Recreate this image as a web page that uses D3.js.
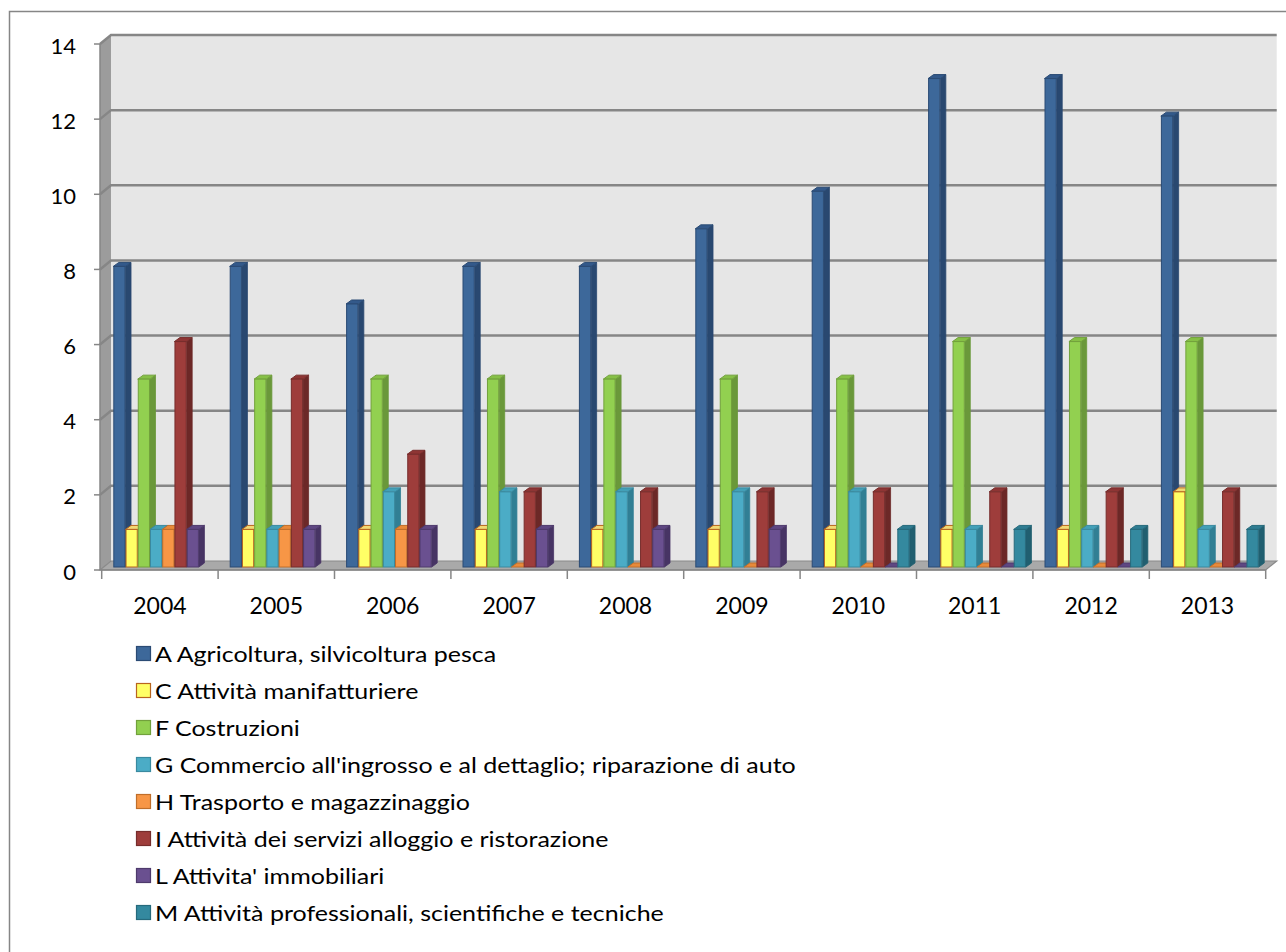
<!DOCTYPE html>
<html>
<head>
<meta charset="utf-8">
<script src="https://cdn.jsdelivr.net/npm/d3@7"></script>
<style>
  body { margin: 0; background: #ffffff; }
  svg { display: block; }
  text { font-family: Lato, "Open Sans", sans-serif; fill: #000; }
</style>
</head>
<body>
<svg id="chart" width="1286" height="952"></svg>
<script>
// Years on the category axis
const years = ["2004", "2005", "2006", "2007", "2008", "2009", "2010", "2011", "2012", "2013"];

// Sector names (legend order = bar order inside each year)
const seriesLabels = [
  "A Agricoltura, silvicoltura pesca",
  "C Attività manifatturiere",
  "F Costruzioni",
  "G Commercio all'ingrosso e al dettaglio; riparazione di auto",
  "H Trasporto e magazzinaggio",
  "I Attività dei servizi alloggio e ristorazione",
  "L Attivita' immobiliari",
  "M Attività professionali, scientifiche e tecniche"
];

// Counts per year, one array per sector (null = no entry for that year)
const agricoltura    = [8, 8, 7, 8, 8, 9, 10, 13, 13, 12];
const manifatturiere = [1, 1, 1, 1, 1, 1, 1, 1, 1, 2];
const costruzioni    = [5, 5, 5, 5, 5, 5, 5, 6, 6, 6];
const commercio      = [1, 1, 2, 2, 2, 2, 2, 1, 1, 1];
const trasporto      = [1, 1, 1, 0, 0, 0, 0, 0, 0, 0];
const alloggio       = [6, 5, 3, 2, 2, 2, 2, 2, 2, 2];
const immobiliari    = [1, 1, 1, 1, 1, 1, 0, 0, 0, 0];
const professionali  = [null, null, null, null, null, null, 1, 1, 1, 1];

// Value axis ticks
const yTicks = [0, 2, 4, 6, 8, 10, 12, 14];

const seriesValues = [agricoltura, manifatturiere, costruzioni, commercio,
                      trasporto, alloggio, immobiliari, professionali];

// Face colours for each sector's 3D column
const palette = [
  { front: "#3D689A", side: "#294870", top: "#33598A", stroke: "#2B4B74" },
  { front: "#FFFF66", side: "#C9C94A", top: "#F2D873", stroke: "#B8651E" },
  { front: "#92D050", side: "#6A983A", top: "#86C046", stroke: "#72A13C" },
  { front: "#4BACC6", side: "#317F94", top: "#43A0B8", stroke: "#3A8AA0" },
  { front: "#F79646", side: "#B86A2C", top: "#E88A3A", stroke: "#C06E2A" },
  { front: "#9E3D3B", side: "#6C2827", top: "#8E3534", stroke: "#772D2C" },
  { front: "#6A5090", side: "#473464", top: "#5E4782", stroke: "#4E3A6C" },
  { front: "#34899F", side: "#215F70", top: "#2F7C91", stroke: "#266A7C" }
];

const svg = d3.select("#chart");

// Projection of the 3D box: front plane and depth offsets
const wallDx = 11, wallDy = -9;      // back wall offset from the front plane
const barDx = 5.5, barDy = -4;       // depth of each column
const barLift = -3;                  // columns stand slightly behind the front edge

const y = d3.scaleLinear().domain([0, 14]).range([570, 44]);
const x = d3.scaleBand().domain(years).range([101.7, 1265.7]).padding(0);
const slot = d3.scaleBand().domain(d3.range(seriesValues.length))
  .range([11.6, 11.6 + 8 * 12.23]).padding(0);

const left = 100, right = x.range()[1];

// Chart area frame
svg.append("rect")
  .attr("x", 9.5).attr("y", 11.5)
  .attr("width", 1400).attr("height", 1000)
  .attr("fill", "#fff").attr("stroke", "#868686").attr("stroke-width", 1.5);

// Back wall
svg.append("rect")
  .attr("x", left + wallDx).attr("y", y(14) + wallDy)
  .attr("width", right - left).attr("height", y(0) - y(14))
  .attr("fill", "#E6E6E6");

// Side wall
const pt = p => p.join(",");
svg.append("polygon")
  .attr("points", [[left, y(0)], [left, y(14)], [left + wallDx, y(14) + wallDy], [left + wallDx, y(0) + wallDy]].map(pt).join(" "))
  .attr("fill", "#9C9C9C");

// Floor
svg.append("polygon")
  .attr("points", [[left, y(0)], [right, y(0)], [right + wallDx, y(0) + wallDy], [left + wallDx, y(0) + wallDy]].map(pt).join(" "))
  .attr("fill", "#A9A9A9").attr("stroke", "#8A8A8A").attr("stroke-width", 1.2);

// Gridlines: across the side wall and along the back wall
const grid = svg.append("g").attr("fill", "none").attr("stroke", "#868686").attr("stroke-width", 2.5);
yTicks.filter(v => v > 0).forEach(v => {
  grid.append("polyline")
    .attr("points", [[left, y(v)], [left + wallDx, y(v) + wallDy], [right + wallDx, y(v) + wallDy]].map(pt).join(" "));
});

// Value axis line, ticks and labels
svg.append("line")
  .attr("x1", left).attr("x2", left).attr("y1", y(14)).attr("y2", y(0))
  .attr("stroke", "#868686").attr("stroke-width", 1.5);
const yAxis = svg.append("g");
yTicks.forEach(v => {
  yAxis.append("line")
    .attr("x1", left - 6).attr("x2", left).attr("y1", y(v)).attr("y2", y(v))
    .attr("stroke", "#868686").attr("stroke-width", 1.5);
  yAxis.append("text")
    .attr("x", 76).attr("y", y(v) + 1)
    .attr("text-anchor", "end").attr("dominant-baseline", "central")
    .attr("font-size", 22)
    .text(v);
});

// Category axis line, ticks and labels
svg.append("line")
  .attr("x1", left).attr("x2", right).attr("y1", y(0)).attr("y2", y(0))
  .attr("stroke", "#868686").attr("stroke-width", 1.5);
const bounds = years.map(d => x(d)).concat([right]);
bounds.forEach(b => {
  svg.append("line")
    .attr("x1", b).attr("x2", b).attr("y1", y(0)).attr("y2", y(0) + 9)
    .attr("stroke", "#868686").attr("stroke-width", 1.5);
});
svg.append("g").selectAll("text").data(years).join("text")
  .attr("x", d => x(d) + x.bandwidth() / 2)
  .attr("y", 605)
  .attr("text-anchor", "middle").attr("dominant-baseline", "central")
  .attr("font-size", 23)
  .text(d => d);

// 3D columns, drawn left to right so each column hides its neighbour's side face
const bars = svg.append("g");
const w = slot.bandwidth();
years.forEach((yr, j) => {
  seriesValues.forEach((vals, i) => {
    const v = vals[j];
    if (v === null) return;
    const c = palette[i];
    const x0 = x(yr) + slot(i);
    const yb = y(0) + barLift;
    const yt = y(v) + barLift;
    const g = bars.append("g");
    // side face
    if (v > 0) {
      g.append("polygon")
        .attr("points", [[x0 + w, yb], [x0 + w, yt], [x0 + w + barDx, yt + barDy], [x0 + w + barDx, yb + barDy]].map(pt).join(" "))
        .attr("fill", c.side).attr("stroke", c.side).attr("stroke-width", 0.8);
    }
    // top face
    g.append("polygon")
      .attr("points", [[x0, yt], [x0 + w, yt], [x0 + w + barDx, yt + barDy], [x0 + barDx, yt + barDy]].map(pt).join(" "))
      .attr("fill", c.top).attr("stroke", c.stroke).attr("stroke-width", 1);
    // front face
    if (v > 0) {
      g.append("rect")
        .attr("x", x0 + 0.5).attr("y", yt)
        .attr("width", w - 1).attr("height", yb - yt)
        .attr("fill", c.front).attr("stroke", c.stroke).attr("stroke-width", 1);
    }
  });
});

// Legend
const legend = svg.append("g");
seriesLabels.forEach((label, i) => {
  const cy = 653 + i * 37;
  legend.append("rect")
    .attr("x", 136.5).attr("y", cy - 6.5)
    .attr("width", 14).attr("height", 14)
    .attr("fill", palette[i].front).attr("stroke", palette[i].stroke).attr("stroke-width", 1.2);
  legend.append("text")
    .attr("transform", `translate(155,${cy + 1}) scale(1.22,1)`)
    .attr("dominant-baseline", "central")
    .attr("font-size", 20.5)
    .text(label);
});
</script>
</body>
</html>
